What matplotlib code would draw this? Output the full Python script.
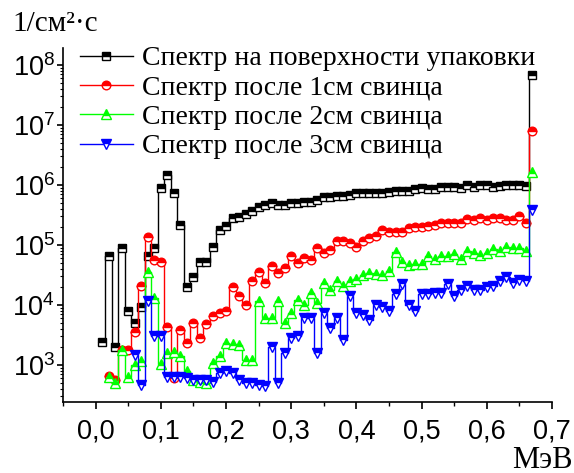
import numpy as np
import matplotlib
matplotlib.use('Agg')
import matplotlib.pyplot as plt
from matplotlib.ticker import MultipleLocator, FuncFormatter, LogLocator

# energy bins, MeV
energy = np.round(np.arange(0.01, 0.675, 0.01), 2)

surface = [2400, 66000, 2000, 90000, 7800, 4900, 9300, 66000, 90000, 870000,
           1480000, 740000, 210000, 20000, 29000, 52000, 52000, 93000, 180000, 205000,
           275000, 295000, 330000, 360000, 430000, 455000, 490000, 470000, 470000, 500000,
           500000, 525000, 525000, 560000, 630000, 630000, 660000, 660000, 680000, 720000,
           740000, 740000, 720000, 740000, 760000, 780000, 780000, 780000, 850000, 870000,
           850000, 850000, 910000, 910000, 910000, 870000, 1000000, 910000, 1000000, 1000000,
           930000, 950000, 1000000, 1000000, 980000, 950000, 68000000]

lead1 = [660, 560, 1800, 1800, 3500, 21000, 135000, 56000, 52000,
         4200, 600, 3800, 2300, 5000, 2800, 4800, 6500, 7200, 7800,
         20000, 14000, 10000, 25000, 35000, 23000, 44000, 34000, 41000, 65000,
         49000, 60000, 56000, 87000, 72000, 83000, 115000, 115000, 107000, 93000,
         115000, 129000, 138000, 174000, 166000, 162000, 166000, 190000, 195000, 200000,
         204000, 214000, 234000, 234000, 229000, 229000, 269000, 263000, 275000, 263000,
         275000, 282000, 263000, 257000, 302000, 234000, 7900000]

lead2 = [630, 500, 1800, 630, 1000, 1150, 35000, 13000, 1050,
         1600, 1650, 1400, 800, 550, 520, 490, 1070, 1380, 2300,
         2200, 2150, 1200, 1200, 11500, 6000, 6000, 11500, 4900, 7200,
         12000, 10000, 15500, 10700, 23000, 18000, 24500, 20500, 24500, 27000,
         32000, 34000, 33000, 31000, 37000, 76000, 52000, 47000, 48000, 48000,
         65000, 59000, 65000, 66000, 71000, 59000, 79000, 74000, 69000, 74000,
         85000, 78000, 93000, 87000, 87000, 78000, 1660000]

lead3 = [1480, 460, 11500, 3000, 3000,
         630, 630, 630, 600, 560, 550, 550, 520, 720, 780,
         740, 560, 490, 490, 460, 440, 2000, 500, 1580, 2750,
         3000, 6000, 6000, 1550, 7200, 4100, 6000, 2600, 13800, 7200,
         6800, 5600, 10000, 9300, 7800, 15000, 22000, 10000, 7900, 15000,
         15000, 16000, 16000, 22000, 13800, 17800, 21000, 17800, 17400, 19500,
         21000, 24500, 29500, 23000, 25700, 25000, 380000]

labels = ['Спектр на поверхности упаковки', 'Спектр после 1см свинца',
          'Спектр после 2см свинца', 'Спектр после 3см свинца']

plt.rcParams['font.family'] = 'Liberation Sans'

fig = plt.figure(figsize=(5.74, 4.73), dpi=100)
ax = fig.add_axes([0.1098, 0.150, 0.8519, 0.7485])

ax.plot(energy, surface, drawstyle='steps-mid', color='black', lw=1.0,
        marker='s', ms=5.5, mew=1.0, mec='black', mfc='black',
        fillstyle='top', markerfacecoloralt='white', label=labels[0])
ax.plot(energy[1:], lead1, drawstyle='steps-mid', color='#ff0000', lw=1.0,
        marker='o', ms=6.2, mew=1.0, mec='#ff0000', mfc='#ff0000',
        fillstyle='top', markerfacecoloralt='white', label=labels[1])
ax.plot(energy[1:], lead2, drawstyle='steps-mid', color='#00ff00', lw=1.0,
        marker='^', ms=7, mew=1.0, mec='#00ff00', mfc='#00ff00',
        fillstyle='top', markerfacecoloralt='white', label=labels[2])
ax.plot(energy[5:], lead3, drawstyle='steps-mid', color='#0000ff', lw=1.0,
        marker='v', ms=7, mew=1.0, mec='#0000ff', mfc='#0000ff',
        fillstyle='top', markerfacecoloralt='white', label=labels[3])

ax.set_yscale('log')
ax.set_xlim(-0.05, 0.7)
ax.set_ylim(10**2.38, 10**8.28)

ax.spines['top'].set_visible(False)
ax.spines['right'].set_visible(False)
ax.spines['left'].set_linewidth(1.2)
ax.spines['bottom'].set_linewidth(1.2)

ax.xaxis.set_major_locator(MultipleLocator(0.1))
ax.xaxis.set_minor_locator(MultipleLocator(0.05))
ax.xaxis.set_major_formatter(FuncFormatter(lambda v, p: ('%.1f' % v).replace('.', ',')))
ax.yaxis.set_major_locator(LogLocator(base=10, numticks=20))
ax.yaxis.set_minor_locator(LogLocator(base=10, subs=np.arange(2, 10), numticks=20))
ax.yaxis.set_major_formatter(FuncFormatter(lambda v, p: r'$\mathdefault{10^{%d}}$' % round(np.log10(v))))

ax.tick_params(axis='x', which='major', direction='out', length=5, width=1.2, labelsize=19.5, pad=7)
ax.tick_params(axis='x', which='minor', direction='out', length=3, width=1.0)
ax.tick_params(axis='y', which='major', direction='out', length=4, width=1.2, labelsize=19.5, pad=2)
ax.tick_params(axis='y', which='minor', direction='out', length=2.5, width=0.8)

leg = ax.legend(loc='upper left', bbox_to_anchor=(80/574, 1 - 46/473),
                bbox_transform=fig.transFigure, frameon=False, numpoints=1,
                handlelength=1.9, handletextpad=0.35, labelspacing=0.14,
                borderpad=0, borderaxespad=0,
                prop={'family': 'Liberation Serif', 'size': 20})

fig.text(0.022, 1 - 24/473, '1/см²·с', family='Liberation Serif', fontsize=21, va='center', ha='left')
fig.text(0.998, 1 - 460/473, 'МэВ', family='Liberation Serif', fontsize=22, va='center', ha='right')

fig.savefig('out.png', dpi=100)
